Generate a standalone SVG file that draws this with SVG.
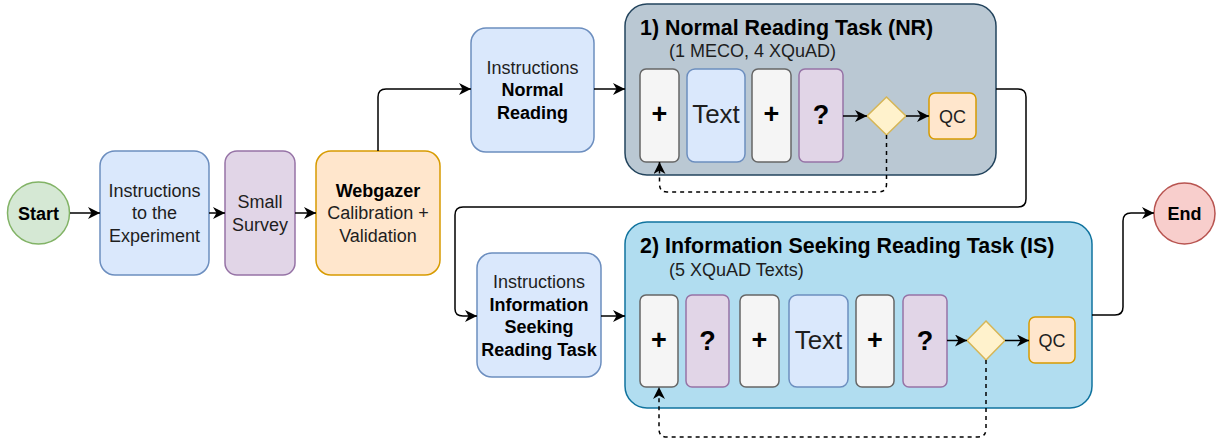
<svg xmlns="http://www.w3.org/2000/svg" width="1217" height="441" viewBox="0 0 1217 441">
<style>
text{font-family:"Liberation Sans",Arial,sans-serif;fill:#1e1e1e;text-anchor:middle}
.b{font-weight:bold;fill:#000}
.t18{font-size:18px}
.sym{font-size:27px;font-weight:bold;fill:#000}
.t26{font-size:26px}
.ttl{font-size:21.4px;font-weight:bold;fill:#000;text-anchor:start}
.sub{font-size:18px;text-anchor:start}
.blue{fill:#dae8fc;stroke:#6c8ebf;stroke-width:1.5}
.purple{fill:#e1d5e7;stroke:#9673a6;stroke-width:1.5}
.orange{fill:#ffe6cc;stroke:#d79b00;stroke-width:1.5}
.grey{fill:#f5f5f5;stroke:#666666;stroke-width:1.5}
.dia{fill:#fff2cc;stroke:#d6b656;stroke-width:1.5}
.edge{fill:none;stroke:#000;stroke-width:1.5}
.dash{fill:none;stroke:#000;stroke-width:1.5;stroke-dasharray:4 4}
</style>
<defs>
<marker id="arr" markerUnits="userSpaceOnUse" markerWidth="14" markerHeight="12" refX="12" refY="6" orient="auto">
<path d="M0,0 L12,6 L0,12 L3.5,6 Z" fill="#000"/>
</marker>
</defs>

<g id="nr-container">
<rect x="625" y="4" width="371" height="171" rx="22" fill="#bac8d3" stroke="#23445d" stroke-width="1.5"/>
<text class="ttl" x="640" y="35">1) Normal Reading Task (NR)</text>
<text class="sub" x="669" y="57">(1 MECO, 4 XQuAD)</text>
</g>
<g id="is-container">
<rect x="625" y="222" width="467" height="186" rx="22" fill="#b1ddf0" stroke="#10739e" stroke-width="1.5"/>
<text class="ttl" x="640" y="253">2) Information Seeking Reading Task (IS)</text>
<text class="sub" x="669" y="276">(5 XQuAD Texts)</text>
</g>

<g id="start">
<circle cx="38.5" cy="213" r="31" fill="#d5e8d4" stroke="#82b366" stroke-width="1.5"/>
<text class="b t18" x="38.5" y="219.5">Start</text>
</g>
<g id="instr-exp">
<rect class="blue" x="100" y="151" width="109" height="124" rx="15"/>
<text class="t18" x="154.5" y="196.5">Instructions</text>
<text class="t18" x="154.5" y="219">to the</text>
<text class="t18" x="154.5" y="241.5">Experiment</text>
</g>
<g id="survey">
<rect class="purple" x="225" y="151" width="70" height="124" rx="12"/>
<text class="t18" x="260" y="208">Small</text>
<text class="t18" x="260" y="230.5">Survey</text>
</g>
<g id="webgazer">
<rect class="orange" x="316" y="151" width="124" height="124" rx="15"/>
<text class="b t18" x="378" y="196.5">Webgazer</text>
<text class="t18" x="378" y="219">Calibration +</text>
<text class="t18" x="378" y="241.5">Validation</text>
</g>
<g id="instr-nr">
<rect class="blue" x="471" y="28" width="123" height="124" rx="15"/>
<text class="t18" x="532.5" y="73.5">Instructions</text>
<text class="b t18" x="532.5" y="96">Normal</text>
<text class="b t18" x="532.5" y="118.5">Reading</text>
</g>
<g id="instr-is">
<rect class="blue" x="477" y="253" width="124" height="124" rx="15"/>
<text class="t18" x="539" y="288">Instructions</text>
<text class="b t18" x="539" y="310.5">Information</text>
<text class="b t18" x="539" y="333">Seeking</text>
<text class="b t18" x="539" y="355.5">Reading Task</text>
</g>

<g id="nr-fix1"><rect class="grey" x="640" y="69" width="39" height="93" rx="6"/><text class="sym" x="659.5" y="123">+</text></g>
<g id="nr-text"><rect class="blue" x="687" y="69" width="58" height="93" rx="8"/><text class="t26" x="716" y="123">Text</text></g>
<g id="nr-fix2"><rect class="grey" x="752" y="69" width="39" height="93" rx="6"/><text class="sym" x="771.5" y="123">+</text></g>
<g id="nr-q"><rect class="purple" x="799" y="69" width="44" height="93" rx="6"/><text class="sym" x="821" y="124">?</text></g>
<g id="nr-dec"><path class="dia" d="M886.5,97 L906,116 L886.5,135 L867,116 Z"/></g>
<g id="nr-qc"><rect class="orange" x="929" y="93" width="47" height="46" rx="6"/><text class="t18" x="952.5" y="122.5">QC</text></g>

<g id="is-fix1"><rect class="grey" x="640" y="295" width="38" height="92" rx="6"/><text class="sym" x="659" y="348.5">+</text></g>
<g id="is-q1"><rect class="purple" x="686" y="295" width="43" height="92" rx="6"/><text class="sym" x="707.5" y="349.5">?</text></g>
<g id="is-fix2"><rect class="grey" x="740" y="295" width="39" height="92" rx="6"/><text class="sym" x="759.5" y="348.5">+</text></g>
<g id="is-text"><rect class="blue" x="789" y="295" width="59" height="92" rx="8"/><text class="t26" x="818.5" y="348.5">Text</text></g>
<g id="is-fix3"><rect class="grey" x="856" y="295" width="38" height="92" rx="6"/><text class="sym" x="875" y="348.5">+</text></g>
<g id="is-q2"><rect class="purple" x="903" y="295" width="44" height="92" rx="6"/><text class="sym" x="925" y="349.5">?</text></g>
<g id="is-dec"><path class="dia" d="M986,321 L1005,340.5 L986,360 L967,340.5 Z"/></g>
<g id="is-qc"><rect class="orange" x="1029" y="317" width="46" height="46" rx="6"/><text class="t18" x="1052" y="346.5">QC</text></g>

<g id="end">
<circle cx="1184.5" cy="213.5" r="30.5" fill="#f8cecc" stroke="#b85450" stroke-width="1.5"/>
<text class="b t18" x="1184.5" y="220">End</text>
</g>

<g id="connectors">
<path class="edge" marker-end="url(#arr)" d="M70,213 H100"/>
<path class="edge" marker-end="url(#arr)" d="M209,213 H225"/>
<path class="edge" marker-end="url(#arr)" d="M295,213 H316"/>
<path class="edge" marker-end="url(#arr)" d="M378,151 V97 Q378,89 386,89 H471"/>
<path class="edge" marker-end="url(#arr)" d="M594,89 H625"/>
<path class="edge" marker-end="url(#arr)" d="M843,116 H867"/>
<path class="edge" marker-end="url(#arr)" d="M906,116 H929"/>
<path class="dash" marker-end="url(#arr)" d="M886.5,135 V184 Q886.5,192 878.5,192 H667 Q659.5,192 659.5,184 V162"/>
<path class="edge" marker-end="url(#arr)" d="M996,89 H1018 Q1026,89 1026,97 V199 Q1026,207 1018,207 H463 Q455,207 455,215 V309 Q455,316 463,316 H477"/>
<path class="edge" marker-end="url(#arr)" d="M601,316 H625"/>
<path class="edge" marker-end="url(#arr)" d="M947,340.5 H967"/>
<path class="edge" marker-end="url(#arr)" d="M1005,340.5 H1029"/>
<path class="dash" marker-end="url(#arr)" d="M986,360 V429 Q986,437 978,437 H667 Q659,437 659,429 V387"/>
<path class="edge" marker-end="url(#arr)" d="M1092,315 H1115 Q1123,315 1123,307 V221 Q1123,213 1131,213 H1154"/>
</g>
</svg>
